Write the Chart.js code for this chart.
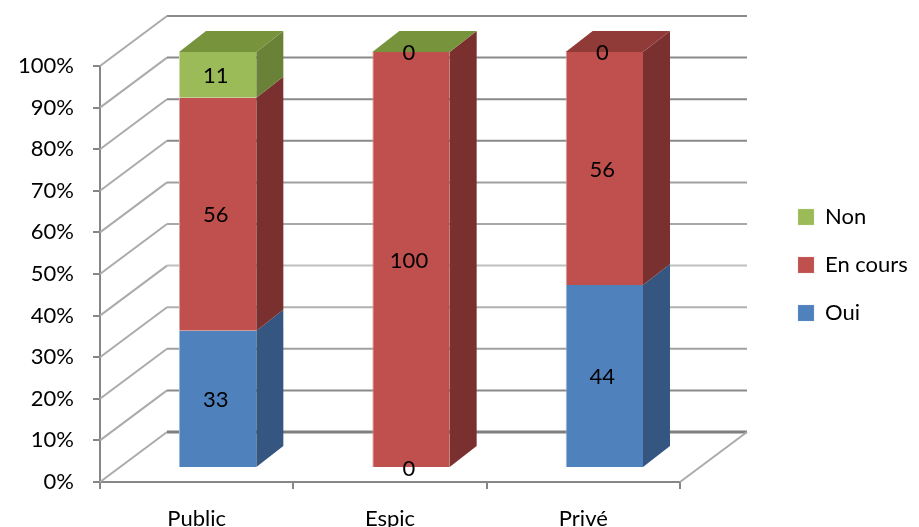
<!DOCTYPE html>
<html>
<head>
<meta charset="utf-8">
<script src="https://cdn.jsdelivr.net/npm/chart.js@4.4.1/dist/chart.umd.min.js"></script>
<style>
  html, body { margin: 0; padding: 0; background: #ffffff; }
  #wrap { width: 919px; height: 527px; overflow: hidden; }
</style>
</head>
<body>
<div id="wrap"><canvas id="chart" width="919" height="527"></canvas></div>
<script>
// Categories and stacked series (percent of each group)
const categories = ['Public', 'Espic', 'Privé'];
const oui = [33, 0, 44];
const enCours = [56, 100, 56];
const non = [11, 0, 0];
const tickLabels = ['0%', '10%', '20%', '30%', '40%', '50%', '60%', '70%', '80%', '90%', '100%'];

// Pseudo-3D geometry (oblique projection offsets, px)
const WALL = { dx: 67, dy: -50 };     // depth of the back wall
const SHIFT = { dx: 21, dy: -14 };    // bar front faces sit this far into the box
const DEPTH = { dx: 27, dy: -21 };    // depth of each column

const FONT = 'Lato, "Open Sans", sans-serif';

// Face colours per series: front, side, light edge
const palette = {
  oui:     { front: '#4F81BD', side: '#345681', edge: '#9DB7D8' },
  enCours: { front: '#C0504D', side: '#7A302F', edge: '#DDA3A1' },
  non:     { front: '#9BBB59', side: '#6A8237', edge: '#C9DBA6' }
};
// Top face colour of each column
const capColors = ['#77933C', '#77933C', '#913B39'];
// Shading of the back wall lines, bottom to top
const wallLineColors = ['#7f7f7f', '#8a8a8a', '#a0a0a0', '#b0b0b0', '#c0c0c0', '#a8a8a8',
                        '#a0a0a0', '#8a8a8a', '#8a8a8a', '#8a8a8a', '#8a8a8a'];
const sideWallColor = '#ababab';

const box3d = {
  id: 'box3d',
  beforeInit(chart) {
    // fixed-width legend column so the plot box keeps its place
    const legend = chart.legend;
    const fit = legend.fit;
    legend.fit = function () {
      fit.call(this);
      this.width = 239;
    };
  },
  afterLayout(chart) {
    const legend = chart.legend;
    const h = legend.height;
    legend.left = 772;
    legend.right = 919;
    legend.top = 180;
    legend.bottom = legend.top + h;
  },
  beforeDatasetsDraw(chart) {
    const { ctx, chartArea: a, scales: { y } } = chart;
    ctx.save();
    ctx.lineCap = 'butt';
    y.ticks.forEach((t, i) => {
      const py = y.getPixelForValue(t.value);
      // side wall
      ctx.strokeStyle = sideWallColor;
      ctx.lineWidth = 2;
      ctx.beginPath();
      ctx.moveTo(a.left, py);
      ctx.lineTo(a.left + WALL.dx, py + WALL.dy);
      ctx.stroke();
      // back wall
      ctx.strokeStyle = wallLineColors[i] || '#8a8a8a';
      ctx.lineWidth = i === 0 ? 3 : 2;
      ctx.beginPath();
      ctx.moveTo(a.left + WALL.dx, py + WALL.dy);
      ctx.lineTo(a.right + WALL.dx, py + WALL.dy);
      ctx.stroke();
    });
    // floor edge on the right
    ctx.strokeStyle = sideWallColor;
    ctx.lineWidth = 2;
    ctx.beginPath();
    ctx.moveTo(a.right, a.bottom);
    ctx.lineTo(a.right + WALL.dx, a.bottom + WALL.dy);
    ctx.stroke();
    ctx.restore();

    // front faces of the columns are drawn shifted into the box
    ctx.save();
    ctx.translate(SHIFT.dx, SHIFT.dy);
  },
  afterDatasetsDraw(chart) {
    const ctx = chart.ctx;
    ctx.restore();

    const metas = chart.data.datasets.map((d, i) => chart.getDatasetMeta(i));

    // side faces
    metas.forEach((meta, di) => {
      const side = chart.data.datasets[di].sideColor;
      meta.data.forEach(bar => {
        if (Math.abs(bar.base - bar.y) < 0.5) return;
        const xr = bar.x + bar.width / 2 + SHIFT.dx;
        const yt = bar.y + SHIFT.dy;
        const yb = bar.base + SHIFT.dy;
        ctx.fillStyle = side;
        ctx.beginPath();
        ctx.moveTo(xr, yt);
        ctx.lineTo(xr + DEPTH.dx, yt + DEPTH.dy);
        ctx.lineTo(xr + DEPTH.dx, yb + DEPTH.dy);
        ctx.lineTo(xr, yb);
        ctx.closePath();
        ctx.fill();
      });
    });

    // top faces
    categories.forEach((c, i) => {
      const bars = metas.map(m => m.data[i]);
      const top = Math.min(...bars.map(b => b.y));
      const b = bars[0];
      const xl = b.x - b.width / 2 + SHIFT.dx;
      const xr = b.x + b.width / 2 + SHIFT.dx;
      const yt = top + SHIFT.dy;
      ctx.fillStyle = capColors[i];
      ctx.beginPath();
      ctx.moveTo(xl, yt);
      ctx.lineTo(xl + DEPTH.dx, yt + DEPTH.dy);
      ctx.lineTo(xr + DEPTH.dx, yt + DEPTH.dy);
      ctx.lineTo(xr, yt);
      ctx.closePath();
      ctx.fill();
    });

    // value labels on the front faces
    ctx.save();
    ctx.font = '22px ' + FONT;
    ctx.fillStyle = '#000000';
    ctx.textAlign = 'center';
    ctx.textBaseline = 'middle';
    metas.forEach((meta, di) => {
      const values = chart.data.datasets[di].data;
      meta.data.forEach((bar, i) => {
        const cx = bar.x + SHIFT.dx - 2;
        const cy = (bar.y + bar.base) / 2 + SHIFT.dy + 1;
        ctx.fillText(String(values[i]), cx, cy);
      });
    });
    ctx.restore();
  }
};

const axisGrey = '#868686';

new Chart(document.getElementById('chart'), {
  type: 'bar',
  data: {
    labels: categories,
    datasets: [
      { label: 'Oui', data: oui, backgroundColor: palette.oui.front, sideColor: palette.oui.side,
        borderColor: palette.oui.edge, borderWidth: { left: 1, top: 0, right: 0, bottom: 0 } },
      { label: 'En cours', data: enCours, backgroundColor: palette.enCours.front, sideColor: palette.enCours.side,
        borderColor: palette.enCours.edge, borderWidth: { left: 1, top: 0, right: 0, bottom: 0 } },
      { label: 'Non', data: non, backgroundColor: palette.non.front, sideColor: palette.non.side,
        borderColor: palette.non.edge, borderWidth: { left: 1, top: 0, right: 0, bottom: 0 } }
    ]
  },
  options: {
    responsive: false,
    animation: false,
    devicePixelRatio: 1,
    layout: { padding: { left: 0, top: 66, right: 0, bottom: 0 } },
    datasets: { bar: { categoryPercentage: 1, barPercentage: 0.4, clip: false, borderSkipped: false } },
    scales: {
      x: {
        stacked: true,
        offset: true,
        afterFit(scale) { scale.height = 45; },
        grid: { offset: true, drawOnChartArea: false, drawTicks: true, tickLength: 7, color: axisGrey, lineWidth: 2 },
        border: { display: true, color: axisGrey, width: 2 },
        ticks: { color: '#000000', font: { family: FONT, size: 22 }, padding: 17, maxRotation: 0 }
      },
      y: {
        stacked: true,
        min: 0,
        max: 100,
        afterFit(scale) { scale.width = 100; },
        grid: { drawOnChartArea: false, drawTicks: true, tickLength: 7, color: axisGrey, lineWidth: 2 },
        border: { display: true, color: axisGrey, width: 2 },
        ticks: {
          stepSize: 10,
          color: '#000000',
          font: { family: FONT, size: 22 },
          padding: 19,
          callback: (v, i) => tickLabels[i]
        }
      }
    },
    plugins: {
      legend: {
        position: 'right',
        align: 'start',
        reverse: true,
        labels: {
          boxWidth: 16,
          boxHeight: 16,
          padding: 26,
          color: '#000000',
          font: { family: FONT, size: 22 }
        }
      },
      tooltip: { enabled: false }
    }
  },
  plugins: [box3d]
});
</script>
</body>
</html>
